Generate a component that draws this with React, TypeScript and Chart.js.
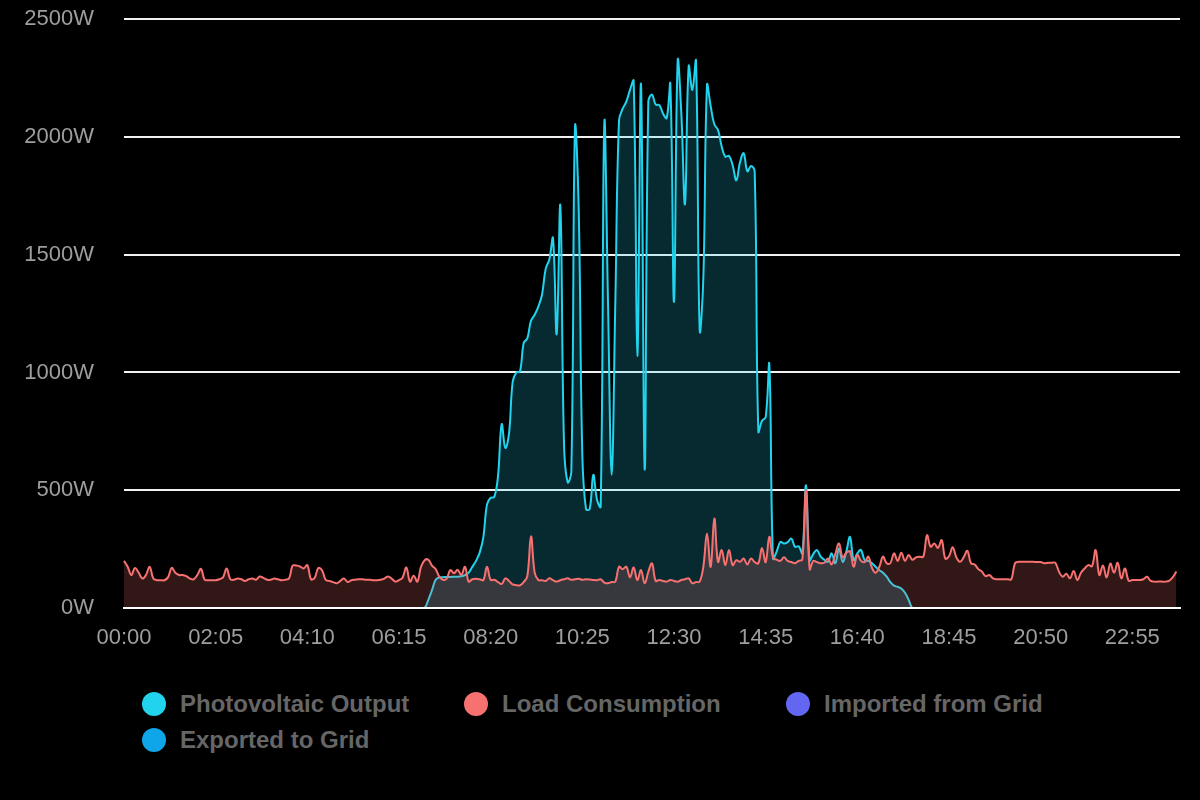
import React, { useEffect, useRef } from "react";
import { Chart, registerables } from "chart.js";

Chart.register(...registerables);

// Category axis: 5-minute steps from 00:00 to 24:00
const timeLabels: string[] = [];
for (let m = 0; m <= 1440; m += 5) {
  const h = Math.floor(m / 60);
  const mm = m % 60;
  timeLabels.push(`${String(h).padStart(2, "0")}:${String(mm).padStart(2, "0")}`);
}

const yTicks: number[] = [0, 500, 1000, 1500, 2000, 2500];
const tickEvery = 25;

// Photovoltaic output (W), one value per 5 minutes
const pvOutput: number[] = [
  0, 0, 0, 0, 0, 0, 0, 0, 0, 0, 0, 0, 0, 0, 0, 0, 0, 0, 0, 0, 0, 0, 0, 0,
  0, 0, 0, 0, 0, 0, 0, 0, 0, 0, 0, 0, 0, 0, 0, 0, 0, 0, 0, 0, 0, 0, 0, 0,
  0, 0, 0, 0, 0, 0, 0, 0, 0, 0, 0, 0, 0, 0, 0, 0, 0, 0, 0, 0, 0, 0, 0, 0,
  0, 0, 0, 0, 0, 0, 0, 0, 0, 0, 0, 35, 76, 120, 130, 131, 132, 132, 133, 133, 135, 140, 150, 175,
  200, 235, 300, 440, 468, 472, 560, 780, 680, 740, 960, 1000, 1005, 1125, 1145, 1220, 1245, 1280, 1330, 1440, 1480, 1570, 1163, 1708,
  700, 534, 580, 2040, 1700, 650, 420, 420, 565, 460, 430, 2060, 1300, 565, 1300, 2070, 2120, 2150, 2200, 2238, 1071, 2223, 588, 2150,
  2180, 2138, 2135, 2100, 2080, 2223, 1300, 2322, 2100, 1716, 2300, 2200, 2322, 1180, 1400, 2220, 2131, 2054, 2030, 1960, 1916, 1920, 1880, 1816,
  1893, 1931, 1854, 1877, 1854, 749, 795, 810, 1033, 210, 240, 281, 274, 280, 295, 260, 262, 232, 521, 203, 230, 246, 218, 205,
  196, 232, 190, 253, 196, 240, 302, 203, 232, 246, 203, 200, 190, 175, 160, 150, 133, 110, 95, 90, 83, 65, 34, 0,
  0, 0, 0, 0, 0, 0, 0, 0, 0, 0, 0, 0, 0, 0, 0, 0, 0, 0, 0, 0, 0, 0, 0, 0,
  0, 0, 0, 0, 0, 0, 0, 0, 0, 0, 0, 0, 0, 0, 0, 0, 0, 0, 0, 0, 0, 0, 0, 0,
  0, 0, 0, 0, 0, 0, 0, 0, 0, 0, 0, 0, 0, 0, 0, 0, 0, 0, 0, 0, 0, 0, 0, 0,
];

// Load consumption (W)
const loadConsumption: number[] = [
  200, 175, 140, 170, 150, 125, 140, 175, 125, 118, 118, 118, 130, 170, 150, 140, 140, 135, 125, 122, 140, 166, 120, 118,
  118, 118, 122, 130, 168, 122, 120, 125, 122, 115, 122, 125, 120, 134, 128, 120, 120, 125, 122, 118, 120, 125, 180, 180,
  176, 168, 182, 122, 128, 170, 160, 120, 115, 110, 105, 115, 125, 110, 118, 120, 122, 122, 120, 120, 118, 118, 120, 125,
  134, 125, 112, 118, 130, 172, 112, 137, 112, 175, 203, 205, 180, 165, 133, 120, 125, 161, 148, 162, 140, 175, 112, 122,
  124, 122, 118, 175, 119, 120, 110, 102, 126, 115, 100, 97, 96, 110, 135, 304, 150, 119, 118, 115, 126, 118, 112, 118,
  122, 126, 120, 122, 124, 120, 122, 121, 119, 118, 122, 108, 105, 110, 112, 175, 165, 175, 130, 172, 119, 161, 105, 154,
  189, 115, 119, 115, 112, 119, 115, 112, 119, 122, 126, 105, 110, 112, 175, 316, 175, 380, 196, 246, 182, 246, 182, 203,
  196, 210, 185, 210, 195, 190, 255, 195, 302, 215, 205, 200, 215, 200, 195, 190, 200, 205, 500, 165, 200, 195, 190, 192,
  210, 185, 230, 274, 215, 235, 240, 175, 225, 200, 195, 218, 170, 150, 175, 218, 190, 190, 232, 200, 235, 200, 225, 205,
  215, 218, 218, 309, 260, 274, 255, 288, 210, 220, 258, 215, 196, 215, 243, 190, 185, 165, 154, 135, 140, 126, 122, 122,
  122, 122, 122, 190, 196, 196, 196, 196, 196, 195, 195, 190, 192, 192, 192, 154, 133, 145, 126, 157, 119, 150, 168, 182,
  178, 246, 140, 180, 130, 189, 150, 192, 126, 168, 116, 119, 119, 119, 122, 133, 115, 112, 112, 112, 112, 115, 130, 155,
];

// Imported from grid (W) — zero all day
const importedFromGrid: number[] = [
  0, 0, 0, 0, 0, 0, 0, 0, 0, 0, 0, 0, 0, 0, 0, 0, 0, 0, 0, 0, 0, 0, 0, 0,
  0, 0, 0, 0, 0, 0, 0, 0, 0, 0, 0, 0, 0, 0, 0, 0, 0, 0, 0, 0, 0, 0, 0, 0,
  0, 0, 0, 0, 0, 0, 0, 0, 0, 0, 0, 0, 0, 0, 0, 0, 0, 0, 0, 0, 0, 0, 0, 0,
  0, 0, 0, 0, 0, 0, 0, 0, 0, 0, 0, 0, 0, 0, 0, 0, 0, 0, 0, 0, 0, 0, 0, 0,
  0, 0, 0, 0, 0, 0, 0, 0, 0, 0, 0, 0, 0, 0, 0, 0, 0, 0, 0, 0, 0, 0, 0, 0,
  0, 0, 0, 0, 0, 0, 0, 0, 0, 0, 0, 0, 0, 0, 0, 0, 0, 0, 0, 0, 0, 0, 0, 0,
  0, 0, 0, 0, 0, 0, 0, 0, 0, 0, 0, 0, 0, 0, 0, 0, 0, 0, 0, 0, 0, 0, 0, 0,
  0, 0, 0, 0, 0, 0, 0, 0, 0, 0, 0, 0, 0, 0, 0, 0, 0, 0, 0, 0, 0, 0, 0, 0,
  0, 0, 0, 0, 0, 0, 0, 0, 0, 0, 0, 0, 0, 0, 0, 0, 0, 0, 0, 0, 0, 0, 0, 0,
  0, 0, 0, 0, 0, 0, 0, 0, 0, 0, 0, 0, 0, 0, 0, 0, 0, 0, 0, 0, 0, 0, 0, 0,
  0, 0, 0, 0, 0, 0, 0, 0, 0, 0, 0, 0, 0, 0, 0, 0, 0, 0, 0, 0, 0, 0, 0, 0,
  0, 0, 0, 0, 0, 0, 0, 0, 0, 0, 0, 0, 0, 0, 0, 0, 0, 0, 0, 0, 0, 0, 0, 0,
];

// Exported to grid (W) — zero all day
const exportedToGrid: number[] = [
  0, 0, 0, 0, 0, 0, 0, 0, 0, 0, 0, 0, 0, 0, 0, 0, 0, 0, 0, 0, 0, 0, 0, 0,
  0, 0, 0, 0, 0, 0, 0, 0, 0, 0, 0, 0, 0, 0, 0, 0, 0, 0, 0, 0, 0, 0, 0, 0,
  0, 0, 0, 0, 0, 0, 0, 0, 0, 0, 0, 0, 0, 0, 0, 0, 0, 0, 0, 0, 0, 0, 0, 0,
  0, 0, 0, 0, 0, 0, 0, 0, 0, 0, 0, 0, 0, 0, 0, 0, 0, 0, 0, 0, 0, 0, 0, 0,
  0, 0, 0, 0, 0, 0, 0, 0, 0, 0, 0, 0, 0, 0, 0, 0, 0, 0, 0, 0, 0, 0, 0, 0,
  0, 0, 0, 0, 0, 0, 0, 0, 0, 0, 0, 0, 0, 0, 0, 0, 0, 0, 0, 0, 0, 0, 0, 0,
  0, 0, 0, 0, 0, 0, 0, 0, 0, 0, 0, 0, 0, 0, 0, 0, 0, 0, 0, 0, 0, 0, 0, 0,
  0, 0, 0, 0, 0, 0, 0, 0, 0, 0, 0, 0, 0, 0, 0, 0, 0, 0, 0, 0, 0, 0, 0, 0,
  0, 0, 0, 0, 0, 0, 0, 0, 0, 0, 0, 0, 0, 0, 0, 0, 0, 0, 0, 0, 0, 0, 0, 0,
  0, 0, 0, 0, 0, 0, 0, 0, 0, 0, 0, 0, 0, 0, 0, 0, 0, 0, 0, 0, 0, 0, 0, 0,
  0, 0, 0, 0, 0, 0, 0, 0, 0, 0, 0, 0, 0, 0, 0, 0, 0, 0, 0, 0, 0, 0, 0, 0,
  0, 0, 0, 0, 0, 0, 0, 0, 0, 0, 0, 0, 0, 0, 0, 0, 0, 0, 0, 0, 0, 0, 0, 0,
];

const seriesNames: string[] = ["Photovoltaic Output", "Load Consumption", "Imported from Grid", "Exported to Grid"];
const seriesColors: string[] = ["#22d3ee", "#f87171", "#6366f1", "#0ea5e9"];
const seriesFills: string[] = [
  "rgba(34,211,238,0.2)",
  "rgba(248,113,113,0.2)",
  "rgba(99,102,241,0.2)",
  "rgba(14,165,233,0.2)",
];

const FONT = "'Liberation Sans', Arial, Helvetica, sans-serif";
const CANVAS_OFFSET = -24;
const CANVAS_HEIGHT = 676;

function EnergyChart() {
  const canvasRef = useRef<HTMLCanvasElement | null>(null);

  useEffect(() => {
    const canvas = canvasRef.current;
    if (!canvas) return;
    const seriesData = [pvOutput, loadConsumption, importedFromGrid, exportedToGrid];
    const orders = [2, 1, 3, 4];
    const chart = new Chart(canvas, {
      type: "line",
      data: {
        labels: timeLabels,
        datasets: seriesData.map((d, i) => ({
          label: seriesNames[i],
          data: d,
          borderColor: seriesColors[i],
          backgroundColor: seriesFills[i],
          fill: "origin",
          borderWidth: 2,
          pointRadius: 0,
          pointHoverRadius: 0,
          tension: 0.4,
          order: orders[i],
        })),
      },
      options: {
        responsive: false,
        animation: false,
        maintainAspectRatio: false,
        layout: { padding: { top: 18, right: 20, bottom: 0, left: 0 } },
        plugins: {
          legend: { display: false },
          tooltip: { enabled: false },
        },
        scales: {
          x: {
            type: "category",
            grid: { display: false, drawTicks: false },
            border: { display: true, color: "#ffffff", width: 2, z: 1 },
            ticks: {
              autoSkip: false,
              maxRotation: 0,
              minRotation: 0,
              padding: 17,
              color: "#9e9e9e",
              font: { family: FONT, size: 22 },
              callback: (_v: any, i: number) =>
                i % tickEvery === 0 && i < timeLabels.length - 1 ? timeLabels[i] : null,
            },
            afterFit: (s: any) => {
              s.height = 44;
            },
          },
          y: {
            min: yTicks[0],
            max: yTicks[yTicks.length - 1],
            grid: { color: "rgba(255,255,255,0.95)", lineWidth: 2, drawTicks: false },
            border: { display: false },
            ticks: {
              stepSize: 500,
              padding: 30,
              color: "#9e9e9e",
              font: { family: FONT, size: 22 },
              callback: (v: any) => `${v}W`,
            },
            afterFit: (s: any) => {
              s.width = 124;
            },
          },
        },
      },
    });
    return () => chart.destroy();
  }, []);

  return (
    <canvas
      ref={canvasRef}
      width={1200}
      height={CANVAS_HEIGHT}
      style={{ position: "absolute", left: 0, top: CANVAS_OFFSET, width: 1200, height: CANVAS_HEIGHT }}
    />
  );
}

function Legend() {
  return (
    <div
      style={{
        position: "absolute",
        left: 142,
        top: 686,
        display: "grid",
        gridTemplateColumns: "repeat(3, 322px)",
        gridAutoRows: "36px",
      }}
    >
      {seriesNames.map((name, i) => (
        <div key={name} style={{ display: "flex", alignItems: "center", height: 36 }}>
          <span
            style={{
              display: "inline-block",
              width: 24,
              height: 24,
              borderRadius: "50%",
              background: seriesColors[i],
              marginRight: 14,
              flex: "0 0 auto",
            }}
          />
          <span
            style={{
              fontFamily: FONT,
              fontWeight: 700,
              fontSize: 24,
              lineHeight: "36px",
              color: "#666666",
              whiteSpace: "nowrap",
            }}
          >
            {name}
          </span>
        </div>
      ))}
    </div>
  );
}

export default function App() {
  return (
    <div
      style={{
        position: "fixed",
        left: 0,
        top: 0,
        width: 1200,
        height: 800,
        background: "#000000",
        overflow: "hidden",
      }}
    >
      <EnergyChart />
      <Legend />
    </div>
  );
}
